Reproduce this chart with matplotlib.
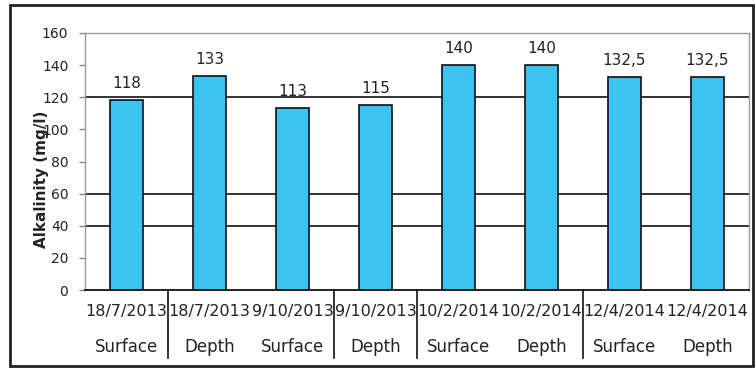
import matplotlib
matplotlib.use("Agg")
import matplotlib.pyplot as plt
from matplotlib.patches import Rectangle
from matplotlib.transforms import blended_transform_factory

# Alkalinity samples
dates = ["18/7/2013", "18/7/2013", "9/10/2013", "9/10/2013",
         "10/2/2014", "10/2/2014", "12/4/2014", "12/4/2014"]
layers = ["Surface", "Depth", "Surface", "Depth",
          "Surface", "Depth", "Surface", "Depth"]
alkalinity = [118, 133, 113, 115, 140, 140, 132.5, 132.5]
value_labels = ["118", "133", "113", "115", "140", "140", "132,5", "132,5"]
y_ticks = [0, 20, 40, 60, 80, 100, 120, 140, 160]
grid_values = [40, 60, 120]
separators_after = [0, 2, 3, 5]

plt.rcParams["font.family"] = ["DejaVu Sans"]

W, H = 755, 369
fig = plt.figure(figsize=(W / 100, H / 100), dpi=100)

# outer chart frame
fig.patches.append(Rectangle((10 / W, 3 / H), 743 / W, 361 / H,
                             transform=fig.transFigure, fill=False,
                             edgecolor="#222222", linewidth=2))

ax = fig.add_axes([85 / W, 1 - 290 / H, 664 / W, 257 / H])
x = list(range(len(alkalinity)))

for g in grid_values:
    ax.axhline(g, color="#111111", linewidth=1.2, zorder=1)

ax.bar(x, alkalinity, width=0.4, color="#3CC4F0", edgecolor="#111111",
       linewidth=1.2, zorder=2)

for xi, v, lab in zip(x, alkalinity, value_labels):
    ax.annotate(lab, (xi, v), xytext=(0, 12), textcoords="offset points",
                ha="center", va="center", fontsize=11, color="#222222")

ax.set_xlim(-0.5, len(alkalinity) - 0.5)
ax.set_ylim(0, 160)
ax.set_yticks(y_ticks)
ax.set_yticklabels([str(t) for t in y_ticks])
ax.tick_params(axis="y", length=4, width=1, color="#888888", pad=8,
               labelsize=10, labelcolor="#222222")
ax.set_xticks([])

for side in ("top", "left", "right"):
    ax.spines[side].set_color("#999999")
    ax.spines[side].set_linewidth(1)
ax.spines["bottom"].set_color("#111111")
ax.spines["bottom"].set_linewidth(1.3)

# two-level category axis
trans = blended_transform_factory(ax.transData, ax.transAxes)
for xi, d, l in zip(x, dates, layers):
    ax.text(xi, -0.085, d, transform=trans, ha="center", va="center",
            fontsize=11.5, color="#222222")
    ax.text(xi, -0.222, l, transform=trans, ha="center", va="center",
            fontsize=12, color="#222222")
for s in separators_after:
    ax.plot([s + 0.5, s + 0.5], [0, -0.265], transform=trans,
            color="#111111", linewidth=1.2, clip_on=False)

fig.text(42 / W, 1 - 179 / H, "Alkalinity (mg/l)", rotation=90,
         ha="center", va="center", fontsize=11, fontweight="bold",
         color="#222222")

fig.savefig("out.png", dpi=100)
